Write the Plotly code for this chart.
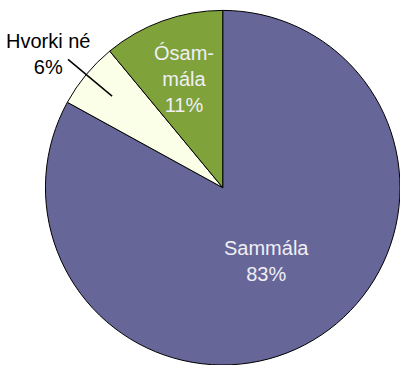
import math
import plotly.graph_objects as go

# Survey answers, drawn clockwise from 12 o'clock
labels = ["Sammála", "Hvorki né", "Ósammála"]
values = [83, 6, 11]
colors = ["#666699", "#fbffe8", "#7fa23a"]

W, H = 400, 365
dom_x = [0.1136, 1.0]
dom_y = [0.0, 0.9716]

fig = go.Figure(go.Pie(
    labels=labels,
    values=values,
    sort=False,
    direction="clockwise",
    rotation=0,
    marker=dict(colors=colors, line=dict(color="#000000", width=1)),
    textinfo="none",
    hoverinfo="label+percent",
    domain=dict(x=dom_x, y=dom_y),
    showlegend=False,
))

# Pie geometry in pixels (centre and radius follow from the domain)
cx = (dom_x[0] + dom_x[1]) / 2 * W
cy = H - (dom_y[0] + dom_y[1]) / 2 * H
R = min((dom_x[1] - dom_x[0]) * W, (dom_y[1] - dom_y[0]) * H) / 2

total = sum(values)


def mid_point(i, r):
    before = sum(values[:i])
    frac = (before + values[i] / 2) / total
    th = 2 * math.pi * frac
    px = cx + R * r * math.sin(th)
    py = cy - R * r * math.cos(th)
    return px / W, 1 - py / H


def pct(i):
    return f"{round(100 * values[i] / total)}%"


FONT = "Liberation Sans, Arial, sans-serif"
FS = 20
TEXT_LIGHT = "#f0eff5"
annotations = []

# Sammála – inside
x0, y0 = mid_point(0, 0.48)
annotations.append(dict(
    x=x0, y=y0, xref="paper", yref="paper", showarrow=False,
    text=f"{labels[0]}<br>{pct(0)}",
    font=dict(family=FONT, size=FS, color=TEXT_LIGHT),
    xanchor="center", yanchor="middle",
))

# Ósammála – inside, hyphenated over two lines
x2, y2 = mid_point(2, 0.65)
annotations.append(dict(
    x=x2, y=y2, xref="paper", yref="paper", showarrow=False,
    text=f"Ósam-<br>mála<br>{pct(2)}",
    font=dict(family=FONT, size=FS, color=TEXT_LIGHT),
    xanchor="center", yanchor="middle",
))

# Hvorki né – outside with a leader line into the slice
annotations.append(dict(
    x=47.5 / W, y=1 - 54 / H, xref="paper", yref="paper", showarrow=False,
    text=f"{labels[1]}<br>{pct(1)}",
    font=dict(family=FONT, size=FS, color="#000000"),
    xanchor="center", yanchor="middle",
))
x1, y1 = mid_point(1, 0.81)
shapes = [dict(
    type="line", xref="paper", yref="paper",
    x0=68 / W, y0=1 - 59.3 / H, x1=x1, y1=y1,
    line=dict(color="#000000", width=1.5),
)]

fig.update_layout(
    width=W, height=H,
    margin=dict(l=0, r=0, t=0, b=0),
    paper_bgcolor="#ffffff",
    plot_bgcolor="#ffffff",
    annotations=annotations,
    shapes=shapes,
)

fig.write_html("out.html")
